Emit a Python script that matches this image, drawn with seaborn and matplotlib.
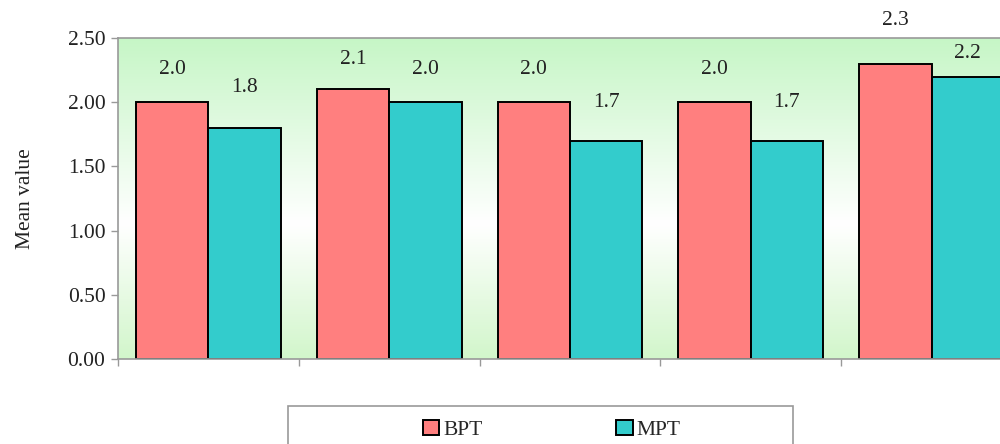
import numpy as np
import pandas as pd
import matplotlib
matplotlib.use("Agg")
import matplotlib.pyplot as plt
from matplotlib.colors import LinearSegmentedColormap
from matplotlib.patches import Rectangle
import seaborn as sns

# Data
groups = ["1", "2", "3", "4", "5"]
series = ["BPT", "MPT"]
bpt_values = [2.0, 2.1, 2.0, 2.0, 2.3]
mpt_values = [1.8, 2.0, 1.7, 1.7, 2.2]
y_ticks = [0.0, 0.5, 1.0, 1.5, 2.0, 2.5]

# gap (pixels) between each bar top and its value label
bpt_label_gap = [23, 20, 23, 23, 34]
mpt_label_gap = [31, 23, 29, 29, 14]

df = pd.DataFrame({
    "group": groups * 2,
    "series": [series[0]] * len(groups) + [series[1]] * len(groups),
    "value": bpt_values + mpt_values,
})

sns.set_theme(style="white")
plt.rcParams["font.family"] = ["Liberation Serif", "DejaVu Serif"]
FS = 15.5

fig = plt.figure(figsize=(10, 4.44), dpi=100)
ax = fig.add_axes([0.118, 0.1914, 0.904, 0.723])

palette = {"BPT": "#FF7F7F", "MPT": "#33CCCC"}
sns.barplot(data=df, x="group", y="value", hue="series", order=groups,
            hue_order=series, palette=palette, width=0.8, saturation=1,
            edgecolor="black", linewidth=1.4, ax=ax, legend=False, zorder=2)

# green-white-green vertical gradient behind the bars
cmap = LinearSegmentedColormap.from_list(
    "bg", [(0.0, "#d2f6cb"), (0.42, "#ffffff"), (1.0, "#c6f6c6")])
grad = np.linspace(0, 1, 256).reshape(-1, 1)
ax.imshow(grad, extent=[0, 1, 0, 1], transform=ax.transAxes, origin="lower",
          aspect="auto", cmap=cmap, zorder=0)

ax.set_xlim(-0.5, len(groups) - 0.5)
ax.set_ylim(0, 2.5)
ax.set_yticks(y_ticks)
ax.set_yticklabels([f"{v:.2f}" for v in y_ticks], fontsize=FS, color="#222222")
ax.set_xticks(np.arange(len(groups) + 1) - 0.5)
ax.set_xticklabels([])
ax.set_xlabel("")
ax.set_ylabel("Mean value", fontsize=FS, color="#222222")
ax.yaxis.set_label_coords(-0.092, 0.5)
ax.tick_params(axis="both", direction="out", length=5, width=1, color="#999999",
               bottom=True, left=True, pad=4)

for side in ["top", "left", "bottom", "right"]:
    ax.spines[side].set_visible(True)
    ax.spines[side].set_color("#999999")
    ax.spines[side].set_linewidth(1.2)

# value labels above each bar
for cont, vals, gaps in zip(ax.containers, [bpt_values, mpt_values],
                            [bpt_label_gap, mpt_label_gap]):
    for bar, v, g in zip(cont, vals, gaps):
        ax.annotate(f"{v:.1f}", (bar.get_x() + bar.get_width() / 2, v),
                    xytext=(0, g * 0.72), textcoords="offset points",
                    ha="center", va="bottom", fontsize=FS, color="#222222",
                    annotation_clip=False)

# legend with a framed box below the plot
fig.patches.append(Rectangle((0.288, -0.05), 0.505, 0.136, transform=fig.transFigure,
                             facecolor="white", edgecolor="#999999", linewidth=1.2))
handles = [Rectangle((0, 0), 1, 1, facecolor=palette[s], edgecolor="black", linewidth=1.4)
           for s in series]
fig.legend(handles, series, loc="center", bbox_to_anchor=(0.552, 0.032), ncol=2,
           frameon=False, fontsize=FS, handlelength=0.75, handleheight=0.75,
           handletextpad=0.2, columnspacing=6.2)

fig.savefig("out.png", dpi=100)
